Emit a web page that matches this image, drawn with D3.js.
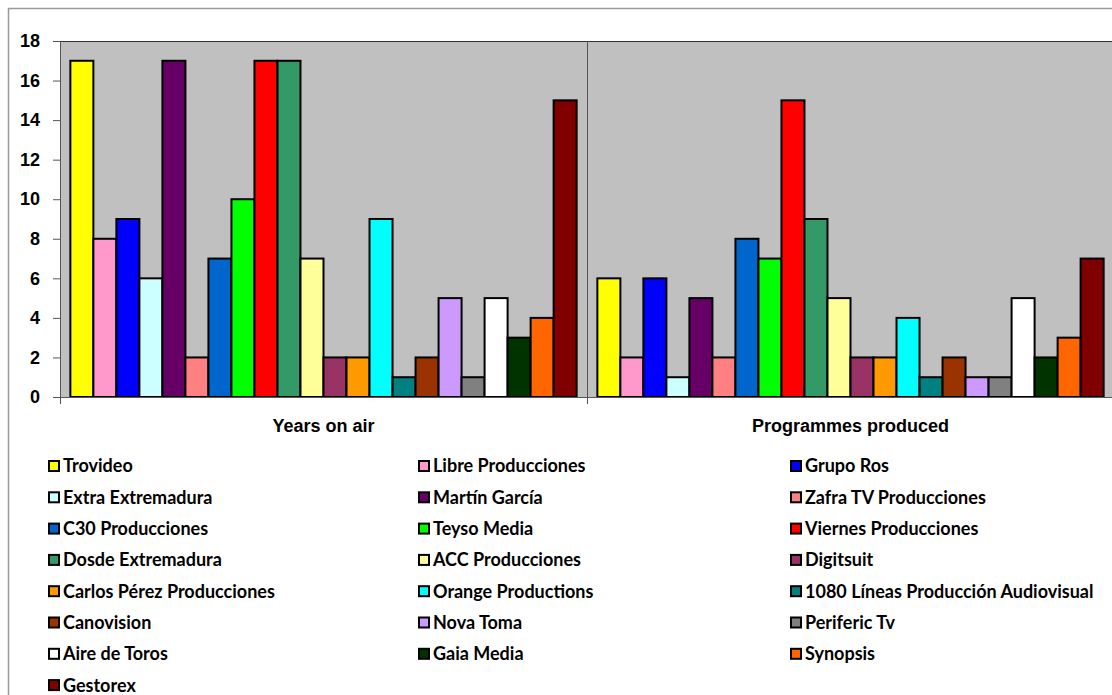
<!DOCTYPE html>
<html lang="en">
<head>
    <meta charset="UTF-8">
    <title>Years on air / Programmes produced</title>
    <script src="https://cdnjs.cloudflare.com/ajax/libs/d3/7.8.5/d3.min.js"></script>
    <style>
        body {
            margin: 0;
            padding: 0;
            background-color: #fff;
            font-family: Lato, 'Open Sans', Arial, sans-serif;
        }
        svg { display: block; }
        .tick-label { font-weight: bold; font-size: 18px; fill: #000; }
        .cat-label { font-weight: bold; font-size: 18px; fill: #000; }
        .legend-label { font-weight: bold; font-size: 18px; fill: #000; }
    </style>
</head>
<body>
    <div id="chart"></div>

    <script>
        // categories on the x axis
        const categories = ["Years on air", "Programmes produced"];

        // one series per production company
        const companies = [
            "Trovideo", "Libre Producciones", "Grupo Ros", "Extra Extremadura",
            "Martín García", "Zafra TV Producciones", "C30 Producciones", "Teyso Media",
            "Viernes Producciones", "Dosde Extremadura", "ACC Producciones", "Digitsuit",
            "Carlos Pérez Producciones", "Orange Productions", "1080 Líneas Producción Audiovisual", "Canovision",
            "Nova Toma", "Periferic Tv", "Aire de Toros", "Gaia Media",
            "Synopsis", "Gestorex"
        ];
        const yearsOnAir = [17, 8, 9, 6, 17, 2, 7, 10, 17, 17, 7, 2, 2, 9, 1, 2, 5, 1, 5, 3, 4, 15];
        const programmesProduced = [6, 2, 6, 1, 5, 2, 8, 7, 15, 9, 5, 2, 2, 4, 1, 2, 1, 1, 5, 2, 3, 7];
        const yTicks = [0, 2, 4, 6, 8, 10, 12, 14, 16, 18];

        const colors = [
            "#FFFF00", "#FF99CC", "#0000FF", "#CCFFFF",
            "#660066", "#FF8080", "#0066CC", "#00FF00",
            "#FF0000", "#339966", "#FFFF99", "#993366",
            "#FF9900", "#00FFFF", "#008080", "#993300",
            "#CC99FF", "#808080", "#FFFFFF", "#003300",
            "#FF6600", "#800000"
        ];

        const width = 1112, height = 695;
        const plot = { left: 60, right: 1114, top: 41, bottom: 397 };

        const svg = d3.select("#chart").append("svg")
            .attr("width", width)
            .attr("height", height);

        // outer frame
        svg.append("rect")
            .attr("x", 8.5).attr("y", 8.5)
            .attr("width", width + 10).attr("height", height + 10)
            .attr("fill", "none")
            .attr("stroke", "#9a9a9a")
            .attr("stroke-width", 1.5);

        const x0 = d3.scaleBand()
            .domain(categories)
            .range([plot.left, plot.right]);

        const x1 = d3.scaleBand()
            .domain(d3.range(companies.length))
            .range([0, x0.bandwidth()])
            .paddingOuter(0.45);

        const y = d3.scaleLinear()
            .domain([0, 18])
            .range([plot.bottom, plot.top]);

        // plot background
        svg.append("rect")
            .attr("x", plot.left).attr("y", plot.top)
            .attr("width", plot.right - plot.left)
            .attr("height", plot.bottom - plot.top)
            .attr("fill", "#C0C0C0");

        svg.append("line")
            .attr("x1", plot.left).attr("x2", plot.right)
            .attr("y1", plot.top + 0.5).attr("y2", plot.top + 0.5)
            .attr("stroke", "#333").attr("stroke-width", 1);

        // divider between the two groups
        svg.append("line")
            .attr("x1", x0(categories[1]) + 0.5).attr("x2", x0(categories[1]) + 0.5)
            .attr("y1", plot.top).attr("y2", plot.bottom + 7)
            .attr("stroke", "#555").attr("stroke-width", 1);

        // y axis
        const yAxis = svg.append("g")
            .attr("transform", `translate(${plot.left},0)`)
            .call(d3.axisLeft(y).tickValues(yTicks).tickSize(7).tickPadding(13));
        yAxis.select(".domain").attr("stroke", "#555");
        yAxis.selectAll(".tick line").attr("stroke", "#555");
        yAxis.selectAll(".tick text")
            .attr("class", "tick-label")
            .attr("font-family", null)
            .attr("font-size", null);

        // bars
        const series = [yearsOnAir, programmesProduced];
        const groups = svg.append("g").selectAll("g")
            .data(categories)
            .join("g")
            .attr("transform", d => `translate(${x0(d)},0)`);

        groups.selectAll("rect")
            .data((d, gi) => series[gi].map((v, i) => ({ i, v })))
            .join("rect")
            .attr("x", d => x1(d.i))
            .attr("y", d => y(d.v))
            .attr("width", x1.bandwidth())
            .attr("height", d => y(0) - y(d.v))
            .attr("fill", d => colors[d.i])
            .attr("stroke", "#000")
            .attr("stroke-width", 2);

        // x axis
        const xAxis = svg.append("g")
            .attr("transform", `translate(0,${plot.bottom})`)
            .call(d3.axisBottom(x0).tickSize(0).tickPadding(22));
        xAxis.select(".domain").attr("stroke", "#555");
        xAxis.selectAll(".tick text")
            .attr("class", "cat-label")
            .attr("font-family", null)
            .attr("font-size", null);
        // category boundary ticks
        svg.append("g").selectAll("line")
            .data([plot.left, plot.right])
            .join("line")
            .attr("x1", d => d + 0.5).attr("x2", d => d + 0.5)
            .attr("y1", plot.bottom).attr("y2", plot.bottom + 7)
            .attr("stroke", "#555");

        // legend, three columns
        const legendCols = [48, 418, 790];
        const legendTop = 466, rowStep = 31.3;
        const legend = svg.append("g").selectAll("g")
            .data(companies)
            .join("g")
            .attr("transform", (d, i) => `translate(${legendCols[i % 3]},${legendTop + Math.floor(i / 3) * rowStep})`);

        legend.append("rect")
            .attr("x", 1).attr("y", -5)
            .attr("width", 10).attr("height", 10)
            .attr("fill", (d, i) => colors[i])
            .attr("stroke", "#000")
            .attr("stroke-width", 2);

        legend.append("text")
            .attr("class", "legend-label")
            .attr("x", 15)
            .attr("dy", "0.36em")
            .text(d => d);
    </script>
</body>
</html>
